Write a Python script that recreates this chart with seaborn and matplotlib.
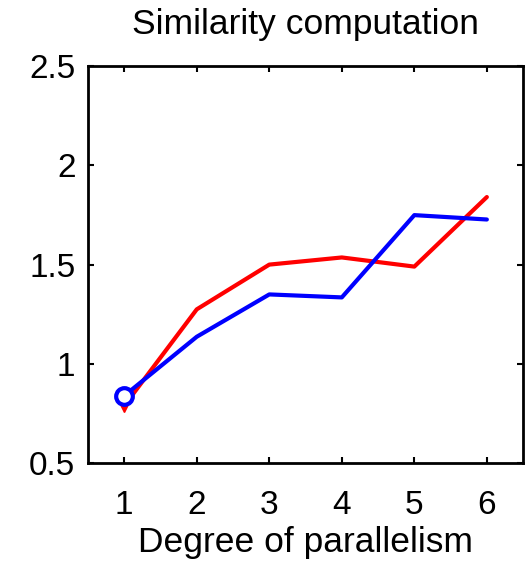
import matplotlib
matplotlib.use("Agg")
import matplotlib.pyplot as plt
from matplotlib.ticker import FuncFormatter
import seaborn as sns
import pandas as pd

# Speedup of the similarity step versus number of parallel workers
parallelism = [1, 2, 3, 4, 5, 6]
red_values = [0.79, 1.275, 1.50, 1.536, 1.49, 1.84]
blue_values = [0.84, 1.137, 1.35, 1.335, 1.749, 1.727]
x_ticks = [1, 2, 3, 4, 5, 6]
y_ticks = [0.5, 1.0, 1.5, 2.0, 2.5]

sns.set_style("ticks")
plt.rcParams["font.family"] = ["Liberation Sans", "DejaVu Sans"]
plt.rcParams["text.color"] = "black"
plt.rcParams["xtick.color"] = "black"
plt.rcParams["ytick.color"] = "black"
plt.rcParams["axes.labelcolor"] = "black"

df = pd.DataFrame({
    "parallelism": parallelism * 2,
    "value": red_values + blue_values,
    "series": ["red"] * len(red_values) + ["blue"] * len(blue_values),
})

fig = plt.figure(figsize=(5.30, 5.63), dpi=100)
ax = fig.add_axes([0.166, 0.177, 0.821, 0.706])

sns.lineplot(data=df, x="parallelism", y="value", hue="series",
             palette={"red": "#ff0000", "blue": "#0000ff"},
             linewidth=3, legend=False, ax=ax, sort=False)

# Markers at the first data point of each series
ax.plot(parallelism[0], red_values[0], marker="v", color="#ff0000",
        markersize=9, linestyle="none", zorder=3)
ax.plot(parallelism[0], blue_values[0], marker="o", markerfacecolor="white",
        markeredgecolor="#0000ff", markeredgewidth=3, markersize=12,
        linestyle="none", zorder=4)

ax.set_xlim(0.5, 6.5)
ax.set_ylim(0.5, 2.5)
ax.set_xticks(x_ticks)
ax.set_yticks(y_ticks)
ax.yaxis.set_major_formatter(FuncFormatter(lambda v, p: f"{v:g}"))
ax.tick_params(direction="in", length=4, width=1.5, labelsize=24,
               top=True, right=True)
ax.tick_params(axis="x", pad=19)
ax.tick_params(axis="y", pad=9)
for s in ax.spines.values():
    s.set_linewidth(2)
    s.set_color("black")

ax.set_title("Similarity computation", fontsize=25.5, pad=23)
ax.set_xlabel("Degree of parallelism", fontsize=25.5, labelpad=4)
ax.set_ylabel("")

fig.savefig("out.png", dpi=100)
